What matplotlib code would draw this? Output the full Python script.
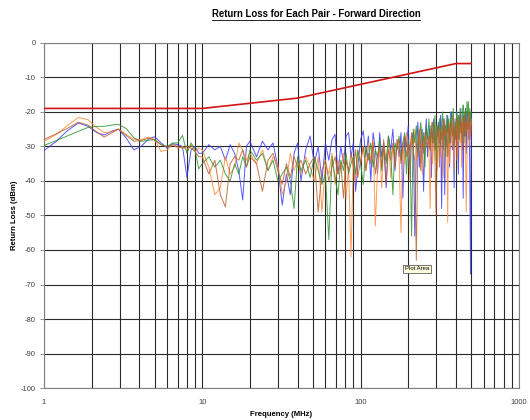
import numpy as np
import matplotlib
matplotlib.use("Agg")
import matplotlib.pyplot as plt
from matplotlib.lines import Line2D

plt.rcParams["font.family"] = ["Liberation Sans", "DejaVu Sans"]
plt.rcParams["axes.unicode_minus"] = False

# 频率采样点 (MHz)
freq_mhz = [
    1, 1.2, 1.4, 1.65, 1.9, 2.15, 2.4, 2.7, 2.95, 3.3,
    3.7, 4.1, 4.6, 5.0, 5.5, 6.0, 6.5, 7.0, 7.5, 8.0,
    8.5, 9.0, 9.5, 10, 11, 12, 13, 14, 15, 16,
    17, 18, 19, 20, 22, 24, 26, 28, 30, 32,
    34, 36, 38, 40, 42, 45, 48, 51, 54, 57,
    60, 63, 66, 69, 72, 75, 78, 81, 84, 87,
    90, 93, 96, 100, 104, 108, 112, 116, 120, 124,
    128, 132, 136, 140, 145, 150, 155, 160, 165, 170,
    175, 180, 185, 190, 195, 200, 205, 210, 215, 220,
    225, 230, 235, 240, 245, 250, 255, 260, 265, 270,
    275, 280, 285, 290, 295, 300, 305, 310, 315, 320,
    325, 330, 335, 340, 345, 350, 355, 360, 365, 370,
    375, 380, 385, 390, 395, 400, 405, 410, 415, 420,
    425, 430, 435, 440, 445, 450, 455, 460, 465, 470,
    475, 480, 485, 490, 495, 500]

blue_db = [
    -31.2, -28.5, -25.5, -23.2, -24.2, -26.0, -26.7, -25.5, -25.0, -27.5,
    -31.0, -30.0, -27.8, -27.2, -29.0, -30.5, -29.2, -29.5, -30.0, -39.0,
    -31.0, -30.0, -32.0, -32, -29.5, -31, -30, -34, -29.5, -32,
    -37, -45.5, -30, -28.5, -33, -28.5, -31, -29, -36, -47,
    -38, -44, -32, -29, -40, -31, -27, -35, -30, -40,
    -29, -34, -28, -26.5, -38, -30, -35, -27, -26, -33,
    -29, -43, -36, -28, -25.5, -33, -27, -40, -26, -31,
    -38, -26, -33, -29, -42, -27, -31, -25, -37, -28,
    -33, -26, -45, -27, -30, -24, -38, -28, -26, -56,
    -31, -23, -36, -27, -25, -43, -29, -22, -33, -27,
    -24, -39, -26, -22, -31, -25, -27, -23, -29, -21,
    -48, -26, -22, -44, -24, -30, -21, -27, -36, -23,
    -20, -31, -25, -42, -22, -28, -20, -26, -38, -21,
    -25, -19, -30, -23, -45, -21, -27, -19, -32, -22,
    -20, -28, -22, -40, -67, -21]

orange_db = [
    -28.5, -26.5, -24.0, -21.6, -22.3, -24.5, -26.0, -25.8, -25.0, -26.5,
    -28.0, -28.0, -27.3, -28.0, -31.5, -31.0, -29.5, -30.5, -30.0, -31.0,
    -29.5, -31.5, -30.5, -31, -36, -44, -42, -33, -38, -36,
    -29, -31, -34, -32, -35, -31, -37, -33, -35, -44,
    -40, -32, -37, -34, -38, -33, -36, -40, -33, -49,
    -35, -38, -32, -41, -34, -37, -32, -45, -36, -62,
    -33, -40, -31, -35, -30, -37, -29, -34, -28, -53,
    -36, -31, -42, -29, -34, -27, -39, -30, -33, -28,
    -32, -55, -29, -35, -26, -31, -40, -27, -30, -25,
    -34, -28, -30, -24, -38, -27, -32, -29, -26, -30,
    -48, -23, -35, -27, -31, -24, -37, -28, -25, -33,
    -26, -22, -39, -27, -27, -24, -52, -23, -35, -26,
    -22, -30, -25, -37, -23, -27, -21, -33, -26, -22,
    -29, -24, -36, -21, -26, -25, -23, -28, -49, -34,
    -24, -21, -30, -23, -27, -22]

green_db = [
    -29.7, -28.3, -27.0, -25.6, -24.5, -24.2, -24.2, -23.8, -23.6, -24.8,
    -27.5, -28.5, -28.2, -28.0, -29.5, -30.0, -29.0, -29.0, -26.8, -32.0,
    -29.0, -31.0, -36.5, -35, -33, -36, -34, -38, -40, -35,
    -38, -33, -36, -31, -34, -32, -37, -34, -40, -38,
    -36, -40, -48, -33, -37, -34, -39, -33, -37, -41,
    -38, -57, -33, -39, -44, -34, -37, -32, -38, -35,
    -33, -38, -31, -35, -41, -30, -34, -29, -36, -31,
    -33, -28, -37, -30, -35, -27, -32, -44, -29, -31,
    -27, -34, -29, -26, -38, -28, -31, -56, -25, -29,
    -24, -33, -27, -23, -30, -26, -36, -24, -28, -22,
    -31, -25, -23, -29, -21, -34, -24, -27, -22, -30,
    -23, -20, -28, -24, -33, -21, -26, -22, -29, -20,
    -25, -22, -19, -30, -23, -27, -20, -24, -21, -28,
    -19, -23, -26, -20, -18, -29, -22, -19, -24, -17,
    -21, -17, -25, -19, -23, -20]

brown_db = [
    -28.0, -26.3, -24.8, -23.0, -23.8, -25.8, -27.3, -26.0, -25.0, -26.8,
    -28.5, -28.3, -27.6, -28.3, -29.5, -30.2, -29.5, -30.0, -30.5, -30.0,
    -30.5, -31.5, -33.0, -33, -38, -34, -44, -47.5, -35, -33,
    -34, -31, -36, -33, -35, -43, -34, -32, -37, -41,
    -35, -39, -33, -36, -34, -38, -35, -33, -49, -37,
    -34, -40, -36, -33, -38, -35, -45, -34, -37, -32,
    -36, -31, -39, -34, -30, -37, -32, -35, -29, -38,
    -33, -30, -36, -28, -41, -31, -34, -29, -36, -30,
    -28, -35, -30, -27, -33, -29, -31, -26, -31, -34,
    -63, -30, -25, -37, -28, -32, -26, -29, -30, -27,
    -31, -25, -29, -23, -34, -50, -28, -24, -36, -25,
    -28, -24, -31, -22, -27, -25, -33, -23, -26, -29,
    -23, -27, -21, -30, -25, -24, -34, -22, -28, -24,
    -21, -26, -23, -31, -22, -25, -20, -27, -23, -26,
    -22, -25, -20, -28, -24, -23]

# 限值线
limit_freq = [1, 10, 40, 400, 500]
limit_db = [-19, -19, -16, -6, -6]

y_ticks = list(range(-100, 1, 10))
x_ticks = [1, 10, 100, 1000]
x_tick_labels = ["1", "10", "100", "1000"]

fig = plt.figure(figsize=(5.3, 4.2), dpi=100)
ax = fig.add_axes([0.083, 0.076, 0.896, 0.822])

pairs = [(blue_db, "#3a3aff"), (orange_db, "#ff8a3a"), (green_db, "#2f962f"), (brown_db, "#b8602e")]
for vals, c in pairs:
    ax.plot(freq_mhz, vals, color=c, lw=0.7, alpha=0.85, zorder=3)
ax.plot(limit_freq, limit_db, color="#d21414", lw=1.2, zorder=4)

ax.set_xscale("log")
ax.set_xlim(1, 1000)
ax.set_ylim(-100, 0)
ax.set_yticks(y_ticks)
ax.set_xticks(x_ticks)
ax.set_xticklabels(x_tick_labels)
ax.xaxis.set_minor_locator(matplotlib.ticker.LogLocator(base=10, subs=np.arange(2, 10)))
ax.xaxis.set_minor_formatter(matplotlib.ticker.NullFormatter())

# 网格
ax.grid(True, which="both", axis="x", color="#2a2a2a", lw=0.8)
ax.grid(True, which="major", axis="y", color="#2a2a2a", lw=0.8)
ax.set_axisbelow(True)
for sp in ax.spines.values():
    sp.set_color("#808080")
    sp.set_linewidth(0.8)

ax.tick_params(axis="y", direction="out", length=3, width=0.6, color="#808080", pad=3,
               labelsize=5.5, labelcolor="#404040")
ax.tick_params(axis="x", which="both", length=0, pad=8, labelsize=5.5, labelcolor="#404040")

# 标题、坐标轴标签
title = fig.text(0.596, 0.966, "Return Loss for Each Pair - Forward Direction",
                 ha="center", va="center", fontsize=6.9, fontweight="bold")
fig.text(0.531, 0.013, "Frequency (MHz)", ha="center", va="center", fontsize=5.6, fontweight="bold")
fig.text(0.027, 0.488, "Return Loss (dBm)", ha="center", va="center", rotation=90,
         fontsize=5.6, fontweight="bold")

# 标题下划线
fig.canvas.draw()
bb = title.get_window_extent(fig.canvas.get_renderer())
W, H = fig.bbox.width, fig.bbox.height
uy = (bb.y0 - 0.5) / H
fig.add_artist(Line2D([bb.x0 / W, bb.x1 / W], [uy, uy], color="black", lw=0.6))

# Excel 提示框
fig.text(0.787, 0.36, "Plot Area", ha="center", va="center", fontsize=4.3,
         bbox=dict(boxstyle="square,pad=0.3", fc="#ffffe1", ec="#404040", lw=0.5))

fig.savefig("out.png", dpi=100)
